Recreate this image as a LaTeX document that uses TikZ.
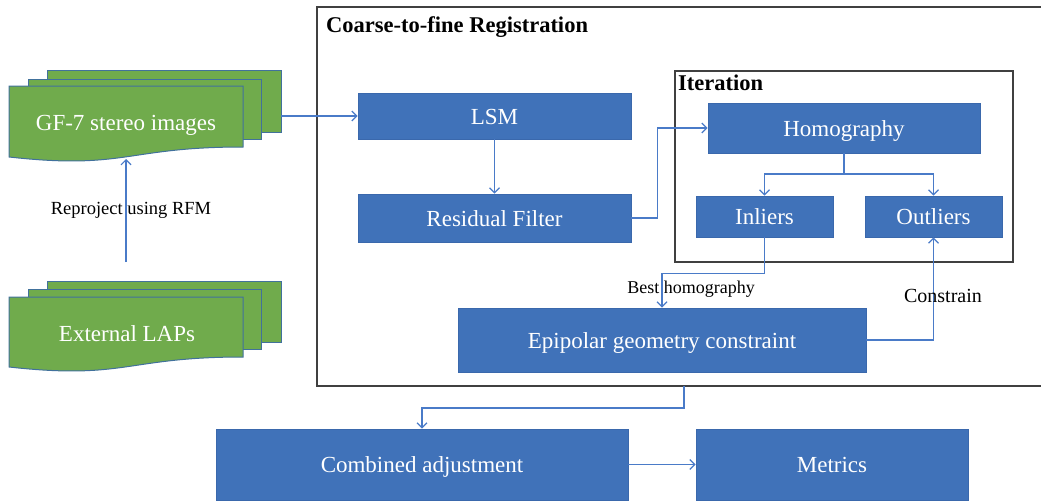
\documentclass[tikz,border=0pt]{standalone}
\usepackage{fontspec}
\setmainfont{Liberation Serif}
\usetikzlibrary{arrows.meta,calc}
\definecolor{boxblue}{HTML}{4072B9}
\definecolor{boxedge}{HTML}{3A68AC}
\definecolor{docgreen}{HTML}{70AB4C}
\definecolor{docedge}{HTML}{41719C}
\definecolor{linkblue}{HTML}{4A7BC8}
\definecolor{framegray}{HTML}{404040}
\begin{document}
\begin{tikzpicture}[x=1pt,y=-1pt,
  bluebox/.style={draw=boxedge,line width=0.8pt,fill=boxblue,text=white,
    font=\fontsize{23}{27}\selectfont,inner sep=0pt,text height=18pt,text depth=2pt},
  sheet/.style={draw=docedge,line width=1pt,fill=docgreen},
  doctext/.style={text=white,font=\fontsize{23}{27}\selectfont,inner sep=0pt,text height=18pt,text depth=2pt},
  link/.style={draw=linkblue,line width=1.2pt,-{Straight Barb[length=5pt,width=10pt]}},
  plainlink/.style={draw=linkblue,line width=1.2pt},
  framebox/.style={draw=framegray,line width=1.3pt},
  title/.style={font=\fontsize{22.5}{26}\selectfont\bfseries,anchor=west,inner sep=0pt},
  lbl/.style={font=\fontsize{18.5}{22}\selectfont,inner sep=0pt,text height=13pt,text depth=4pt}]
\useasboundingbox (0,0) rectangle (1041,503);
\begin{scope}
\clip (0,0) rectangle (1041,503);
% outer frame
\draw[framebox] (317,7) rectangle (1060,386);
\end{scope}
\node[title] (ctf) at (326,27) {Coarse-to-fine Registration};
% iteration frame
\draw[framebox] (675,71) rectangle (1013,262);
\node[title] (itr) at (678,83) {Iteration};

% GF-7 stack
\draw[sheet] (47,71) rectangle (281,132);
\draw[sheet] (28,79) rectangle (261,139);
\draw[sheet] (9,86) -- (243,86) -- (243,147) .. controls (126,147) and (126,170) .. (9,157) -- cycle;
\node[doctext] (gf) at (126,122) {GF-7 stereo images};
% External LAPs stack
\draw[sheet] (47,281) rectangle (281,342);
\draw[sheet] (28,289) rectangle (261,349);
\draw[sheet] (9,297) -- (243,297) -- (243,357) .. controls (126,357) and (126,380) .. (9,367) -- cycle;
\node[doctext] (ext) at (127,333) {External LAPs};

\coordinate (gfout) at (281,116);
\coordinate (gfbot) at (126,159);
\coordinate (extop) at (126,262);

% blue boxes
\node[bluebox,minimum width=273,minimum height=46] (lsm) at (494.5,116) {LSM};
\node[bluebox,minimum width=273,minimum height=48] (res) at (494.5,218) {Residual Filter};
\node[bluebox,minimum width=272,minimum height=50] (hom) at (844,128) {Homography};
\node[bluebox,minimum width=137,minimum height=41] (inl) at (764.5,216.5) {Inliers};
\node[bluebox,minimum width=137,minimum height=41] (outl) at (933.5,216.5) {Outliers};
\node[bluebox,minimum width=408,minimum height=64] (epi) at (662,340) {Epipolar geometry constraint};
\node[bluebox,minimum width=412,minimum height=71] (comb) at (422,464.5) {Combined adjustment};
\node[bluebox,minimum width=272,minimum height=71] (met) at (832,464.5) {Metrics};

\coordinate (split) at (844,174);
\coordinate (frameout) at (684,386);

% connectors
\draw[link] (extop) -- (gfbot);
\node[lbl] (rep) at (131,210) {Reproject using RFM};
\draw[link] (gfout) -- (lsm.west);
\draw[link] (lsm.south) -- (res.north);
\draw[link] (res.east) -- ++(26,0) |- (hom.west);
\draw[plainlink] (hom.south) -- (split);
\draw[link] (split) -| (inl.north);
\draw[link] (split) -| (outl.north);
\draw[link] (inl.south) -- ++(0,36) -| (epi.north);
\node[lbl,font=\fontsize{18}{22}\selectfont] (bh) at (691,289) {Best homography};
\draw[link] (epi.east) -| (outl.south);
\node[lbl,font=\fontsize{20}{24}\selectfont] (con) at (943,298) {Constrain};
\draw[link] (frameout) -- ++(0,22) -| (comb.north);
\draw[link] (comb.east) -- (met.west);
\end{tikzpicture}
\end{document}
